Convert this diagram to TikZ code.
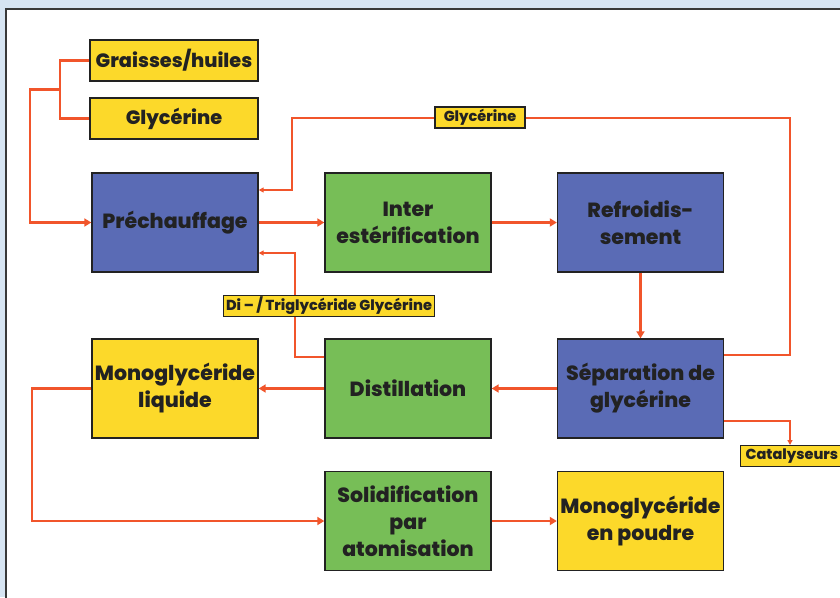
\documentclass[tikz,border=0pt]{standalone}
\usepackage{fontspec}
\setmainfont{Poppins}
\newfontfamily\heavy{Poppins ExtraBold}
\usetikzlibrary{arrows.meta}
\definecolor{bgblue}{HTML}{D6E4F2}
\definecolor{bblue}{HTML}{5A6BB5}
\definecolor{bgreen}{HTML}{77BE57}
\definecolor{byellow}{HTML}{FCD92A}
\definecolor{flow}{HTML}{F1552B}
\definecolor{ink}{HTML}{222222}
\begin{document}
\begin{tikzpicture}[x=1pt,y=-1pt,
  box/.style={draw=ink, line width=1.4pt, minimum width=166pt, minimum height=99pt,
    align=center, inner sep=0pt, text=ink, font=\heavy\fontsize{20.5}{27}\selectfont},
  bluebox/.style={box, fill=bblue},
  greenbox/.style={box, fill=bgreen},
  yellowbox/.style={box, fill=byellow},
  srcbox/.style={draw=ink, line width=1.4pt, fill=byellow, minimum width=168pt, minimum height=41pt,
    inner sep=0pt, text=ink, font=\heavy\fontsize{19.3}{22}\selectfont},
  tag/.style={draw=ink, line width=1.1pt, fill=byellow, inner xsep=3pt, inner ysep=1pt, minimum height=21pt,
    text=ink, font=\heavy\fontsize{14.5}{16}\selectfont},
  main/.style={draw=flow, line width=2.6pt, -{Triangle[length=7pt,width=8pt]}},
  mainplain/.style={draw=flow, line width=2.6pt},
  side/.style={draw=flow, line width=1.4pt, -{Triangle[length=5pt,width=5pt]}},
]
\useasboundingbox (0,0) rectangle (840,597);
\fill[bgblue] (0,0) rectangle (840,597);
\filldraw[fill=white, draw=ink!90, line width=1.5pt] (6,9) rectangle (850,610);

% nodes
\node[srcbox] (gr) at (174,60.5) {Graisses/huiles};
\node[srcbox] (gly) at (174,118.5) {Glycérine};
\node[bluebox] (pre) at (175,222.5) {Préchauffage};
\node[greenbox] (inter) at (408,222.5) {Inter\\estérification};
\node[bluebox] (ref) at (640.5,222.5) {Refroidis-\\sement};
\node[bluebox] (sep) at (640.5,388.5) {Séparation de\\glycérine};
\node[greenbox] (dist) at (408,388.5) {Distillation};
\node[yellowbox] (mliq) at (175,388.5) {Monoglycéride\\liquide};
\node[greenbox] (sol) at (408,521) {Solidification\\par\\atomisation};
\node[yellowbox] (mpou) at (640.5,521) {Monoglycéride\\en poudre};

% coordinates
\coordinate (b1) at (60,89.5);
\coordinate (b2) at (30,89.5);
\coordinate (l1) at (32,388.5);
\coordinate (r0) at (790,355);
\coordinate (r1) at (790,118);
\coordinate (r2) at (292,118);
\coordinate (r3) at (292,190);
\coordinate (d0) at (295,357);
\coordinate (d1) at (295,253);
\coordinate (c0) at (790,421);
\coordinate (c1) at (790,445);

% side lines (behind tags)
\draw[side] (sep.east |- r0) -- (r0) -- (r1) -- (r2) -- (r3) -- (pre.east |- r3);
\draw[side] (dist.west |- d0) -- (d0) -- (d1) -- (pre.east |- d1);
\draw[side] (sep.east |- c0) -- (c0) -- (c1);

% tags
\node[tag, minimum width=90pt] (tg) at (480,117.5) {Glycérine};
\node[tag] (tdt) at (329,306) {Di – / Triglycéride Glycérine};
\node[tag, anchor=north west, minimum width=106pt, text width=96pt, align=left] (tc) at (740,445) {Catalyseurs};

% main flow
\draw[mainplain] (gr.west) -| (b1) |- (gly.west);
\draw[main] (b1) -- (b2) |- (pre.west);
\draw[main] (pre) -- (inter);
\draw[main] (inter) -- (ref);
\draw[main] (ref) -- (sep);
\draw[main] (sep) -- (dist);
\draw[main] (dist) -- (mliq);
\draw[main] (mliq.west) -- (l1) |- (sol.west);
\draw[main] (sol) -- (mpou);
\end{tikzpicture}
\end{document}
